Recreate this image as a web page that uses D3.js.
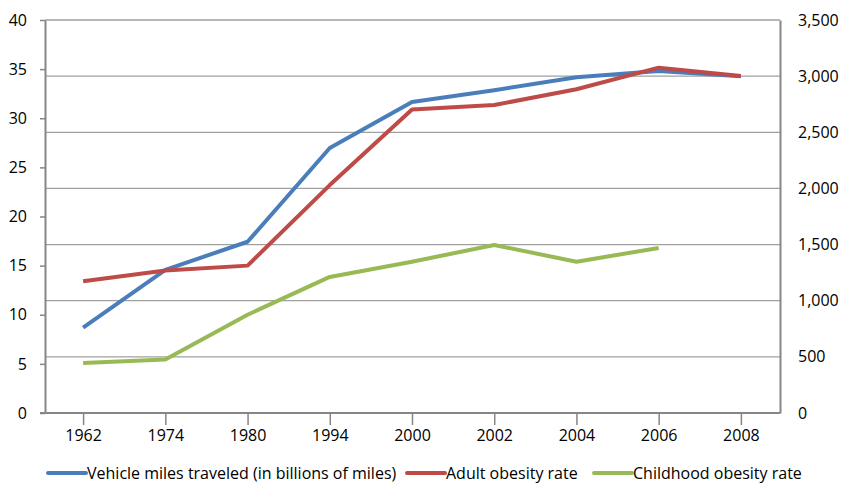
<!DOCTYPE html>
<html>
<head>
<meta charset="utf-8">
<script src="https://d3js.org/d3.v7.min.js"></script>
<style>
  body { margin: 0; background: #fff; }
  svg text { font-family: "Open Sans", sans-serif; fill: #000; }
</style>
</head>
<body>
<svg id="chart" width="841" height="484"></svg>
<script>
// data
const years = ['1962', '1974', '1980', '1994', '2000', '2002', '2004', '2006', '2008'];
const vehicleMiles = [760, 1275, 1525, 2360, 2770, 2875, 2990, 3045, 3000];
const adultObesity = [13.4, 14.5, 15.0, 23.2, 30.9, 31.35, 32.95, 35.15, 34.3];
const childObesity = [5.1, 5.45, 10.0, 13.85, 15.4, 17.1, 15.4, 16.8, null];
const leftTicks = [0, 5, 10, 15, 20, 25, 30, 35, 40];
const rightTicks = [0, 500, 1000, 1500, 2000, 2500, 3000, 3500];

const series = [
  { name: 'Vehicle miles traveled (in billions of miles)', values: vehicleMiles, axis: 'right', color: '#4a7ebb' },
  { name: 'Adult obesity rate', values: adultObesity, axis: 'left', color: '#be4b48' },
  { name: 'Childhood obesity rate', values: childObesity, axis: 'left', color: '#98b954' }
];

const plot = { left: 45, right: 780, top: 20, bottom: 413 };
const svg = d3.select('#chart');
const axisColor = '#868686';
const fontSize = '16px';

const x = d3.scalePoint().domain(years).range([42, 782]).padding(0.5);
const yLeft = d3.scaleLinear().domain([0, 40]).range([plot.bottom, plot.top]);
const yRight = d3.scaleLinear().domain([0, 3500]).range([plot.bottom, plot.top]);

// gridlines follow the right axis
svg.append('g')
  .selectAll('line')
  .data(rightTicks.filter(d => d > 0))
  .enter()
  .append('line')
  .attr('x1', plot.left)
  .attr('x2', plot.right)
  .attr('y1', d => yRight(d))
  .attr('y2', d => yRight(d))
  .attr('stroke', '#a0a0a0')
  .attr('stroke-width', 1.3);

// left axis
const gl = svg.append('g')
  .attr('transform', `translate(${plot.left},0)`)
  .call(d3.axisLeft(yLeft).tickValues(leftTicks).tickSize(5).tickSizeOuter(0).tickPadding(13));
gl.select('.domain').attr('stroke', axisColor).attr('stroke-width', 2);
gl.selectAll('.tick line').attr('stroke', axisColor).attr('stroke-width', 1.5);
gl.selectAll('text').style('font-size', fontSize).attr('fill', '#000');

// right axis
const gr = svg.append('g')
  .attr('transform', `translate(${plot.right},0)`)
  .call(d3.axisRight(yRight).tickValues(rightTicks).tickSize(0).tickPadding(18).tickFormat(d3.format(',')));
gr.select('.domain').attr('stroke', axisColor).attr('stroke-width', 2);
gr.selectAll('text').style('font-size', fontSize).attr('fill', '#000');

// bottom axis
const gb = svg.append('g')
  .attr('transform', `translate(0,${plot.bottom})`)
  .call(d3.axisBottom(x).tickSize(12).tickPadding(5));
gb.select('.domain').remove();
gb.selectAll('.tick line').attr('stroke', axisColor).attr('stroke-width', 1.5);
gb.selectAll('text').style('font-size', fontSize).attr('fill', '#000');
svg.append('line')
  .attr('x1', plot.left - 5)
  .attr('x2', plot.right)
  .attr('y1', plot.bottom)
  .attr('y2', plot.bottom)
  .attr('stroke', axisColor)
  .attr('stroke-width', 2);

// lines
series.forEach(s => {
  const y = s.axis === 'right' ? yRight : yLeft;
  const line = d3.line()
    .defined(d => d != null)
    .x((d, i) => x(years[i]))
    .y(d => y(d));
  svg.append('path')
    .datum(s.values)
    .attr('fill', 'none')
    .attr('stroke', s.color)
    .attr('stroke-width', 4)
    .attr('stroke-linejoin', 'round')
    .attr('d', line);
});

// legend
const legendY = 473;
const legendX = [48, 407, 594];
series.forEach((s, i) => {
  const g = svg.append('g').attr('transform', `translate(${legendX[i]},${legendY})`);
  g.append('line')
    .attr('x1', 0).attr('x2', 38)
    .attr('stroke', s.color)
    .attr('stroke-width', 4)
    .attr('stroke-linecap', 'round');
  g.append('text')
    .attr('x', 39)
    .attr('dy', '0.35em')
    .style('font-size', fontSize)
    .text(s.name);
});
</script>
</body>
</html>
